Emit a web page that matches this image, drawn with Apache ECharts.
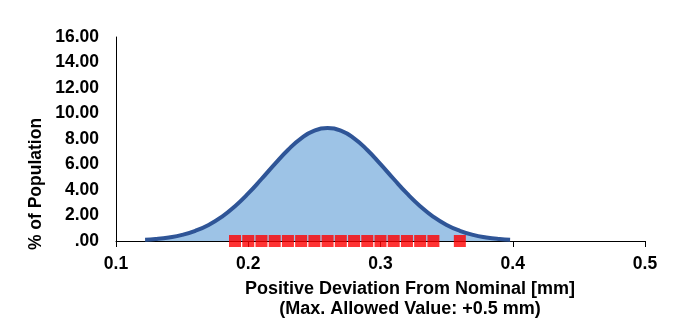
<!DOCTYPE html>
<html>
<head>
<meta charset="utf-8">
<script src="https://cdn.jsdelivr.net/npm/echarts@6/dist/echarts.min.js"></script>
<style>html,body{margin:0;padding:0;background:#fff}#c{width:686px;height:323px}</style>
</head>
<body>
<div id="c"></div>
<script>
// Distribution curve (x in mm, % of population)
const curveX = [0.122,0.13,0.14,0.15,0.16,0.17,0.18,0.19,0.20,0.21,0.22,0.23,0.24,0.25,0.26,0.27,0.28,0.29,0.30,0.31,0.32,0.33,0.34,0.35,0.36,0.37,0.38,0.39,0.398];
const curveY = [0.09,0.15,0.28,0.48,0.80,1.26,1.90,2.73,3.73,4.86,6.03,7.14,8.05,8.65,8.86,8.65,8.05,7.14,6.03,4.86,3.73,2.73,1.90,1.26,0.80,0.48,0.28,0.15,0.09];
// Measured samples (red markers on the axis)
const sampleX = [0.19,0.20,0.21,0.22,0.23,0.24,0.25,0.26,0.27,0.28,0.29,0.30,0.31,0.32,0.33,0.34,0.36];
const sampleY = [0,0,0,0,0,0,0,0,0,0,0,0,0,0,0,0,0];
const xTicks = [0.1,0.2,0.3,0.4,0.5];
const yTicks = [0,2,4,6,8,10,12,14,16];

const chart = echarts.init(document.getElementById('c'));
const font = 'Liberation Sans, Arial, sans-serif';
chart.setOption({
  animation: false,
  grid: {left: 116, right: 41, top: 37, bottom: 82},
  xAxis: {
    type: 'value', min: xTicks[0], max: xTicks[xTicks.length-1], interval: 0.1,
    axisLine: {lineStyle: {color: '#000', width: 1}},
    axisTick: {show: true, length: 6, lineStyle: {color: '#000'}},
    splitLine: {show: false},
    axisLabel: {color: '#000', fontWeight: 'bold', fontSize: 17.5, fontFamily: font, margin: 14,
      formatter: v => (Math.round(v*10)/10).toString()}
  },
  yAxis: {
    type: 'value', min: yTicks[0], max: yTicks[yTicks.length-1], interval: 2,
    axisLine: {show: true, lineStyle: {color: '#000', width: 1}},
    axisTick: {show: false},
    splitLine: {show: false},
    axisLabel: {color: '#000', fontWeight: 'bold', fontSize: 17.5, fontFamily: font, margin: 17,
      formatter: v => v === 0 ? '.00' : v.toFixed(2)}
  },
  series: [
    {
      type: 'line', smooth: true, showSymbol: false,
      data: curveX.map((x, i) => [x, curveY[i]]),
      lineStyle: {color: '#2F5597', width: 4},
      areaStyle: {color: '#9DC3E6', opacity: 1},
      z: 2
    },
    {
      type: 'scatter', symbol: 'rect', symbolSize: 12, clip: false,
      data: sampleX.map((x, i) => [x, sampleY[i]]),
      itemStyle: {color: '#FF0000'},
      z: 5
    }
  ],
  graphic: [
    {type: 'text', x: 410, y: 289, style: {text: 'Positive Deviation From Nominal [mm]', font: 'bold 18px ' + font, fill: '#000', textAlign: 'center', textVerticalAlign: 'middle'}},
    {type: 'text', x: 410, y: 309, style: {text: '(Max. Allowed Value: +0.5 mm)', font: 'bold 18px ' + font, fill: '#000', textAlign: 'center', textVerticalAlign: 'middle'}},
    {type: 'text', x: 36, y: 184, rotation: Math.PI/2, style: {text: '% of Population', font: 'bold 17.5px ' + font, fill: '#000', textAlign: 'center', textVerticalAlign: 'middle'}}
  ]
});
</script>
</body>
</html>
